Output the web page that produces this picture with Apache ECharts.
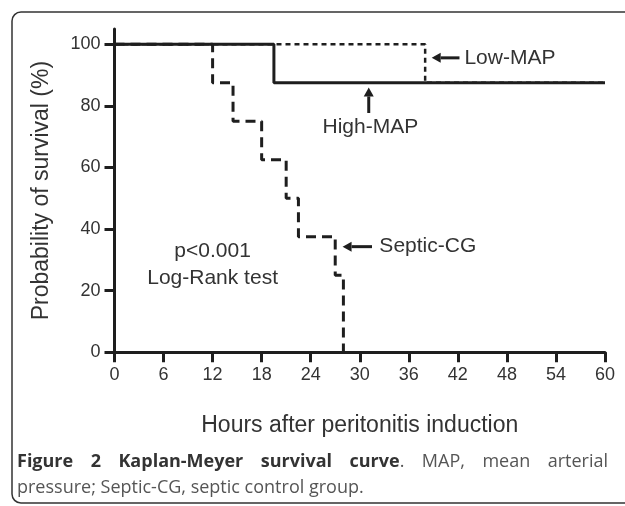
<!DOCTYPE html>
<html>
<head>
<meta charset="utf-8">
<script src="https://cdn.jsdelivr.net/npm/echarts@6/dist/echarts.min.js"></script>
<style>
  html, body { margin: 0; padding: 0; background: #fff; }
  #chart { width: 625px; height: 506px; }
</style>
</head>
<body>
<div id="chart"></div>
<script>
// survival data (hours, %)
const SEPTIC_T = [0, 12, 14.5, 18, 21, 22.5, 27, 28];
const SEPTIC_S = [100, 87.5, 75, 62.5, 50, 37.5, 25, 0];
const LOW_T = [0, 38, 60];
const LOW_S = [100, 87.5, 87.5];
const HIGH_T = [0, 19.5, 60];
const HIGH_S = [100, 87.5, 87.5];
const Y_TICKS = [0, 20, 40, 60, 80, 100];

const FONT = '"Liberation Sans", Arial, sans-serif';
const CAP_FONT = '"Open Sans", sans-serif';
const INK = '#1e1e1e';
const TXT = '#333';

const pairs = (t, s) => t.map((x, i) => [x, s[i]]);

const chart = echarts.init(document.getElementById('chart'), null, { renderer: 'canvas' });

function stepSeries(name, data, width, dash) {
    return {
        name, type: 'line', step: 'end', data, symbol: 'none', silent: true,
        lineStyle: { color: INK, width, type: dash || 'solid', cap: 'butt' },
    };
}

chart.setOption({
    animation: false,
    grid: { left: 114.5, right: 20, top: 28.9, bottom: 153.7 },
    xAxis: {
        type: 'value', min: 0, max: 60, interval: 6,
        name: 'Hours after peritonitis induction', nameLocation: 'middle', nameGap: 62,
        nameTextStyle: { fontFamily: FONT, fontSize: 23, color: TXT },
        axisLine: { lineStyle: { color: INK, width: 3 } },
        axisTick: { length: 10, lineStyle: { color: INK, width: 3 } },
        axisLabel: { fontFamily: FONT, fontSize: 18, color: TXT, margin: 14 },
        splitLine: { show: false },
    },
    yAxis: {
        type: 'value', min: 0, max: 105,
        name: 'Probability of survival (%)', nameLocation: 'middle', nameGap: 61,
        nameTextStyle: { fontFamily: FONT, fontSize: 23, color: TXT },
        axisLine: { show: true, lineStyle: { color: INK, width: 3 } },
        axisTick: { show: true, length: 10, customValues: Y_TICKS, lineStyle: { color: INK, width: 3 } },
        axisLabel: { fontFamily: FONT, fontSize: 18, color: TXT, margin: 14, customValues: Y_TICKS },
        splitLine: { show: false },
    },
    series: [
        stepSeries('Septic-CG', pairs(SEPTIC_T, SEPTIC_S), 3, [10, 6]),
        stepSeries('Low-MAP', pairs(LOW_T, LOW_S), 2.5, [5, 4]),
        stepSeries('High-MAP', pairs(HIGH_T, HIGH_S), 3),
    ],
});

// ── annotations (placed in data units) ────────────────────────────────────────

const px = (x, y) => chart.convertToPixel({ gridIndex: 0 }, [x, y]);

function arrow(from, to) {
    const a = px(from[0], from[1]);
    const b = px(to[0], to[1]);
    const dx = b[0] - a[0], dy = b[1] - a[1];
    const len = Math.hypot(dx, dy), ux = dx / len, uy = dy / len;
    const head = 9, half = 5;
    const base = [b[0] - ux * head, b[1] - uy * head];
    return [
        { type: 'line', shape: { x1: a[0], y1: a[1], x2: base[0], y2: base[1] }, style: { stroke: INK, lineWidth: 3 } },
        { type: 'polygon', shape: { points: [b, [base[0] - uy * half, base[1] + ux * half], [base[0] + uy * half, base[1] - ux * half]] }, style: { fill: INK } },
    ];
}

function label(text, at, align) {
    const p = px(at[0], at[1]);
    return { type: 'text', x: p[0], y: p[1], style: { text, font: '21px ' + FONT, fill: TXT, align, verticalAlign: 'middle' } };
}

const g = [];
g.push(...arrow([42.2, 95.6], [38.8, 95.6]), label('Low-MAP', [42.8, 95.6], 'left'));
g.push(...arrow([31.1, 77.7], [31.1, 86.0]), label('High-MAP', [31.3, 73.2], 'center'));
g.push(...arrow([31.5, 34.3], [27.9, 34.3]), label('Septic-CG', [32.4, 34.3], 'left'));
g.push(label('p<0.001', [12.0, 32.7], 'center'), label('Log-Rank test', [12.0, 24.1], 'center'));

// ── frame + caption ───────────────────────────────────────────────────────────

g.push({ type: 'rect', z: -1, shape: { x: 12, y: 12, width: 640, height: 491, r: 9 }, style: { fill: 'none', stroke: '#333', lineWidth: 1.5 } });

const ctx = document.createElement('canvas').getContext('2d');
const BOLD = 'bold 18px ' + CAP_FONT, REG = '18px ' + CAP_FONT;
const measure = (t, f) => { ctx.font = f; return ctx.measureText(t).width; };

const words = [
    ['Figure', 1], ['2', 1], ['Kaplan-Meyer', 1], ['survival', 1], ['curve', 1, '.'],
    ['MAP,', 0], ['mean', 0], ['arterial', 0],
];
const L = 17, R = 608;
const widths = words.map(w => measure(w[0], w[1] ? BOLD : REG) + (w[2] ? measure(w[2], REG) : 0));
const gap = (R - L - widths.reduce((a, b) => a + b, 0)) / (words.length - 1);
let cx = L;
words.forEach((w, i) => {
    const rich = w[1] ? '{b|' + w[0] + '}' + (w[2] ? '{r|' + w[2] + '}' : '') : '{r|' + w[0] + '}';
    g.push({
        type: 'text', x: cx, y: 462,
        style: {
            text: rich, verticalAlign: 'middle', align: 'left',
            rich: { b: { font: BOLD, fill: '#333' }, r: { font: REG, fill: '#555' } },
        },
    });
    cx += widths[i] + gap;
});
g.push({ type: 'text', x: L, y: 488, style: { text: 'pressure; Septic-CG, septic control group.', font: REG, fill: '#555', verticalAlign: 'middle' } });

chart.setOption({ graphic: g });
</script>
</body>
</html>
